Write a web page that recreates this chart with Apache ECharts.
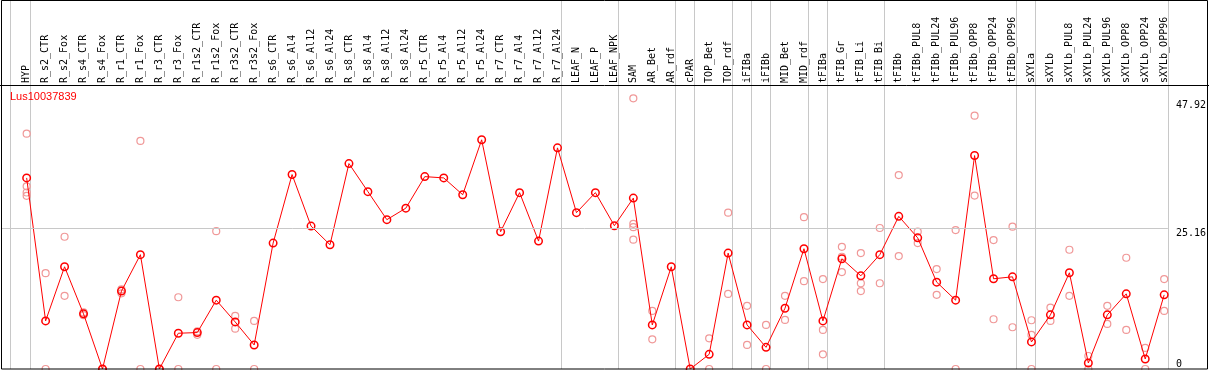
<!DOCTYPE html>
<html>
<head>
<meta charset="utf-8">
<script src="https://cdn.jsdelivr.net/npm/echarts@6/dist/echarts.min.js"></script>
<style>
html,body{margin:0;padding:0;background:#fff;}
#chart{width:1209px;height:370px;}
</style>
</head>
<body>
<div id="chart"></div>
<script>
// ---------------- data ----------------
const geneName = 'Lus10037839';

const categories = [
  'HYP',
  'R_s2_CTR','R_s2_Fox','R_s4_CTR','R_s4_Fox','R_r1_CTR','R_r1_Fox','R_r3_CTR','R_r3_Fox',
  'R_r1s2_CTR','R_r1s2_Fox','R_r3s2_CTR','R_r3s2_Fox',
  'R_s6_CTR','R_s6_Al4','R_s6_Al12','R_s6_Al24','R_s8_CTR','R_s8_Al4','R_s8_Al12','R_s8_Al24',
  'R_r5_CTR','R_r5_Al4','R_r5_Al12','R_r5_Al24','R_r7_CTR','R_r7_Al4','R_r7_Al12','R_r7_Al24',
  'LEAF_N','LEAF_P','LEAF_NPK',
  'SAM','AR_Bet','AR_rdf',
  'cPAR',
  'TOP_Bet','TOP_rdf',
  'iFIBa',
  'iFIBb',
  'MID_Bet','MID_rdf',
  'tFIBa',
  'tFIB_Gr','tFIB_Li','tFIB_Bi',
  'tFIBb','tFIBb_PUL8','tFIBb_PUL24','tFIBb_PUL96','tFIBb_OPP8','tFIBb_OPP24','tFIBb_OPP96',
  'sXYLa',
  'sXYLb','sXYLb_PUL8','sXYLb_PUL24','sXYLb_PUL96','sXYLb_OPP8','sXYLb_OPP24','sXYLb_OPP96'
];

// number of categories in each sample group (separators are drawn between groups)
const groupSizes = [1, 28, 3, 3, 1, 2, 1, 1, 2, 1, 3, 7, 1, 7];

// mean expression per category
const meanValues = [
  34.1,
  8.58, 18.24, 9.84, 0, 13.9, 20.4, 0, 6.38,
  6.5, 12.28, 8.4, 4.29,
  22.47, 34.7, 25.5, 22.17, 36.66, 31.65, 26.65, 28.7,
  34.33, 34.1, 31.1, 40.9, 24.5, 31.47, 22.83, 39.46,
  27.9, 31.47, 25.57,
  30.5, 7.87, 18.24,
  0,
  2.62, 20.68,
  7.87,
  3.87,
  10.85, 21.46,
  8.58,
  19.67, 16.63, 20.4,
  27.24, 23.4, 15.5, 12.28, 38.09, 16.1, 16.45,
  4.83,
  9.66, 17.17, 1.07, 9.66, 13.41, 1.79, 13.23
];

// individual replicate values per category
const replicateValues = [
  [42.0, 32.6, 31.5, 30.9],
  [17.1, 0], [23.6, 13.05], [10.1, 9.6], [0, 0], [14.2, 13.5], [40.7, 0], [0, 0], [12.8, 0],
  [6.7, 6.1], [24.6, 0], [9.48, 7.2], [8.58, 0],
  [], [], [], [], [], [], [], [],
  [], [], [], [], [], [], [], [],
  [], [], [],
  [48.3, 25.9, 25.3, 23.07], [10.37, 5.3], [],
  [],
  [5.48, 0], [27.9, 13.4],
  [11.27, 4.29],
  [7.87, 0],
  [13.05, 8.76], [27.1, 15.68],
  [16.04, 6.97, 2.62],
  [21.8, 20.03, 17.3], [20.68, 15.3, 13.9], [25.16, 15.3],
  [34.6, 20.15], [24.5, 22.47], [17.83, 13.23], [24.8, 0], [45.2, 30.94], [23.0, 8.88], [25.4, 7.45],
  [8.7, 6.08, 0],
  [10.96, 8.58], [21.28, 13.05], [2.32, 0], [11.27, 8.05], [19.85, 6.97], [3.76, 0], [16.04, 10.37]
];

// right axis tick labels
const yTickValues = [0, 25.16, 47.92];

// ---------------- build ----------------
const idx = categories.map((c, i) => i);
const meanData = meanValues.map((v, i) => [i, v]);
const repData = [];
replicateValues.forEach((list, i) => list.forEach(v => repData.push([i, v])));

// separator positions: just after the last category of each group (and one before the first)
const SEP_OFFSET = 0.2;
const sepData = [[-1 + SEP_OFFSET - 0.07, 0]];
let acc = 0;
groupSizes.forEach(n => { acc += n; sepData.push([acc - 1 + SEP_OFFSET, 0]); });

const chart = echarts.init(document.getElementById('chart'), null, {renderer: 'canvas'});
chart.setOption({
  animation: false,
  backgroundColor: '#ffffff',
  title: {
    text: geneName,
    left: 10, top: 91, padding: 0,
    textStyle: {color: '#ff0000', fontSize: 11, fontWeight: 'normal', fontFamily: 'Liberation Sans, Arial, sans-serif'}
  },
  grid: {left: 1, right: 39, top: 85, height: 284, containLabel: false},
  xAxis: {
    type: 'value',
    position: 'top',
    min: -1.353,
    max: 60.196,
    axisLine: {show: false},
    axisTick: {show: false},
    splitLine: {show: false},
    axisLabel: {
      customValues: idx,
      formatter: v => categories[Math.round(v)] || '',
      rotate: 90,
      margin: 2,
      color: '#000',
      fontSize: 10,
      fontFamily: 'DejaVu Sans Mono, monospace'
    }
  },
  yAxis: {
    type: 'value',
    position: 'right',
    min: 0,
    max: 50.68,
    axisLine: {show: false},
    axisTick: {show: false},
    splitLine: {show: false},
    axisLabel: {
      customValues: yTickValues,
      formatter: v => (v === 0 ? '0' : v.toFixed(2)),
      verticalAlign: 'top',
      verticalAlignMinLabel: 'bottom',
      margin: 8,
      color: '#000',
      fontSize: 10,
      fontFamily: 'DejaVu Sans Mono, monospace'
    }
  },
  graphic: [
    {type: 'rect', z: 100, silent: true,
     shape: {x: 1.5, y: 0.5, width: 1206, height: 368.5},
     style: {fill: 'none', stroke: '#000', lineWidth: 1}},
    {type: 'line', z: 100, silent: true,
     shape: {x1: 0, y1: 85.5, x2: 1209, y2: 85.5},
     style: {stroke: '#000', lineWidth: 1}}
  ],
  series: [
    {
      type: 'custom',
      z: 1,
      clip: false,
      silent: true,
      data: sepData,
      encode: {x: 0, y: 1},
      renderItem: (params, api) => {
        const p = api.coord([api.value(0), 0]);
        const cs = params.coordSys;
        const x = Math.round(p[0]) + 0.5;
        return {
          type: 'line',
          shape: {x1: x, y1: 0, x2: x, y2: cs.y + cs.height},
          style: {stroke: '#c8c8c8', lineWidth: 1}
        };
      },
      markLine: {
        silent: true,
        symbol: 'none',
        label: {show: false},
        lineStyle: {color: '#c8c8c8', width: 1, type: 'solid'},
        data: [{yAxis: yTickValues[1]}]
      }
    },
    {
      type: 'scatter',
      z: 2,
      silent: true,
      data: repData,
      symbol: 'circle',
      symbolSize: 7,
      itemStyle: {color: 'rgba(255,255,255,0)', borderColor: '#f09898', borderWidth: 1.2, opacity: 1}
    },
    {
      type: 'line',
      z: 3,
      silent: true,
      data: meanData,
      symbol: 'circle',
      symbolSize: 7.5,
      showAllSymbol: true,
      lineStyle: {color: '#ff0000', width: 1},
      itemStyle: {color: 'rgba(255,255,255,0)', borderColor: '#ff0000', borderWidth: 1.5}
    }
  ]
});
</script>
</body>
</html>
